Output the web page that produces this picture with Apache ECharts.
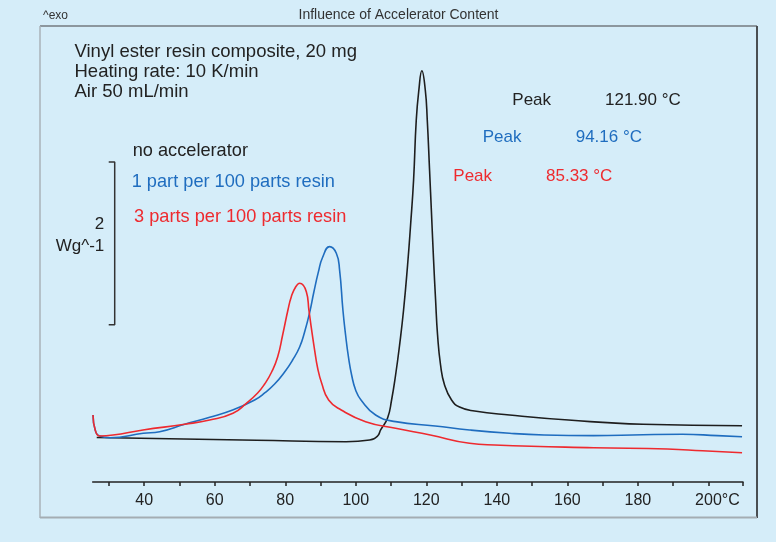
<!DOCTYPE html>
<html><head><meta charset="utf-8">
<script src="https://cdn.jsdelivr.net/npm/echarts@6/dist/echarts.min.js"></script>
<style>html,body{margin:0;padding:0;background:#d5edf9}#c{width:776px;height:542px}</style>
</head><body><div id="c"></div>
<script>
// Temperature (°C) vs heat flow (W/g, arbitrary offset)
const noAccelerator = [[26.54,0.546],[71.89,0.512],[97.26,0.495],[103.92,0.516],[106.18,0.565],[107.04,0.639],[109.02,0.786],[110.15,1.007],[111.29,1.314],[112.42,1.682],[113.55,2.112],[114.69,2.665],[115.54,3.156],[116.39,3.709],[117.15,4.446],[117.89,4.814],[118.74,5.051],[119.71,4.814],[120.27,4.446],[120.92,3.832],[121.49,3.279],[122.06,2.726],[122.63,2.235],[123.19,1.805],[124.04,1.437],[125.17,1.191],[127.16,1.007],[129.43,0.921],[133.68,0.872],[143.6,0.823],[160.32,0.761],[181.47,0.709],[209.53,0.691]];
const onePart = [[25.49,0.823],[26.11,0.639],[27.39,0.565],[30.22,0.544],[39.74,0.598],[44.39,0.618],[51.48,0.709],[58.57,0.795],[65.08,0.884],[71.32,1.007],[74.16,1.093],[76.99,1.203],[79.82,1.351],[82.09,1.498],[84.08,1.658],[85.49,1.842],[86.91,2.080],[88.10,2.330],[89.40,2.580],[90.60,2.760],[92.58,2.890],[94.48,2.809],[95.41,2.603],[96.35,2.112],[97.11,1.805],[97.96,1.523],[98.82,1.314],[99.95,1.130],[101.48,1.007],[105.62,0.823],[111.29,0.741],[122.51,0.688],[132.26,0.639],[143.6,0.598],[153.38,0.577],[167.41,0.569],[181.47,0.581],[192.64,0.586],[202.56,0.569],[209.53,0.556]];
const threeParts = [[25.49,0.823],[26.11,0.639],[27.39,0.565],[31.16,0.577],[39.66,0.639],[51.48,0.709],[58.57,0.761],[65.17,0.844],[68.97,0.966],[72.17,1.093],[74.16,1.203],[76.14,1.351],[77.84,1.535],[79.26,1.805],[80.76,2.112],[81.72,2.276],[82.94,2.395],[84.08,2.440],[85.98,2.337],[86.71,2.112],[87.48,1.867],[88.33,1.621],[89.18,1.400],[90.31,1.216],[92.30,1.007],[95.87,0.884],[102.78,0.741],[111.29,0.659],[121.12,0.577],[132.26,0.475],[139.35,0.454],[167.41,0.421],[188.38,0.405],[198.3,0.384],[209.53,0.360]];
const scaleBar = [[29.94,3.93],[31.64,3.93],[31.64,1.93],[29.94,1.93]];
const xLabelValues = [40,60,80,100,120,140,160,180,200];
const xTickValues = [30,40,50,60,70,80,90,100,110,120,130,140,150,160,170,180,190,200,209.8];
const seriesNames = ['no accelerator','1 part per 100 parts resin','3 parts per 100 parts resin'];
const peakLabels = [['Peak','121.90 °C'],['Peak','94.16 °C'],['Peak','85.33 °C']];
const infoLines = ['Vinyl ester resin composite, 20 mg','Heating rate: 10 K/min','Air 50 mL/min'];

const FF = "'Liberation Sans', Arial, Helvetica, sans-serif";
const C_BLACK = '#1e1e1e', C_BLUE = '#1f6dbf', C_RED = '#ee2a2f';
const chart = echarts.init(document.getElementById('c'));
function txt(t, x, y, size, color, align) {
  return {type:'text', style:{text:t, x:x, y:y, font: size+'px '+FF, fill:color, align:align||'left', verticalAlign:'middle'}};
}
const graphics = [
  {type:'line', shape:{x1:40,y1:26,x2:757,y2:26}, style:{stroke:'#737a7f', lineWidth:1.5}},
  {type:'line', shape:{x1:757,y1:26,x2:757,y2:518}, style:{stroke:'#4a4f53', lineWidth:2}},
  {type:'line', shape:{x1:40,y1:26,x2:40,y2:518}, style:{stroke:'#a9b2b8', lineWidth:1.5}},
  {type:'line', shape:{x1:40,y1:517.5,x2:757,y2:517.5}, style:{stroke:'#a4adb3', lineWidth:2}},
  txt('^exo', 43, 15.5, 12, '#333'),
  txt('Influence of Accelerator Content', 398.5, 15, 14, '#333', 'center'),
  txt(infoLines[0], 74.5, 52, 18.5, '#222'),
  txt(infoLines[1], 74.5, 72, 18.5, '#222'),
  txt(infoLines[2], 74.5, 92, 18.5, '#222'),
  txt(seriesNames[0], 132.7, 150.7, 18.2, '#222'),
  txt(seriesNames[1], 131.7, 181.7, 18.2, C_BLUE),
  txt(seriesNames[2], 134, 217.3, 18.2, C_RED),
  txt('2', 104.3, 224, 17, '#222', 'right'),
  txt('Wg^-1', 104.3, 246, 17, '#222', 'right'),
  txt(peakLabels[0][0], 512.3, 100, 17, '#222'),
  txt(peakLabels[0][1], 605, 100, 17, '#222'),
  txt(peakLabels[1][0], 482.7, 137.3, 17, C_BLUE),
  txt(peakLabels[1][1], 575.7, 137.3, 17, C_BLUE),
  txt(peakLabels[2][0], 453.3, 176, 17, C_RED),
  txt(peakLabels[2][1], 546, 176, 17, C_RED)
];
function curve(name, data, color) {
  return {name:name, type:'line', data:data, showSymbol:false, symbol:'none', smooth:0.5,
    lineStyle:{color:color, width:1.6}, silent:true, animation:false};
}
chart.setOption({
  backgroundColor:'#d5edf9',
  animation:false,
  grid:{left:92.7, right:33, top:26, bottom:60, containLabel:false},
  xAxis:{type:'value', min:25.4, max:209.8,
    axisLine:{show:true, lineStyle:{color:'#222', width:1.5}},
    axisTick:{show:true, customValues:xTickValues, length:4, lineStyle:{color:'#222', width:1.5}},
    axisLabel:{show:true, customValues:xLabelValues, margin:11, color:'#222', fontSize:16, fontFamily:FF,
      formatter:function(v){ return v===200 ? '{p|}200°C' : String(v); },
      rich:{p:{width:18}}},
    splitLine:{show:false}},
  yAxis:{type:'value', min:0, max:5.6, show:false},
  graphic:graphics,
  series:[
    curve(seriesNames[0], noAccelerator, C_BLACK),
    curve(seriesNames[1], onePart, C_BLUE),
    curve(seriesNames[2], threeParts, C_RED),
    {name:'scale', type:'line', data:scaleBar, showSymbol:false, symbol:'none', smooth:false,
      lineStyle:{color:'#333', width:1.5}, silent:true}
  ]
});
</script></body></html>
